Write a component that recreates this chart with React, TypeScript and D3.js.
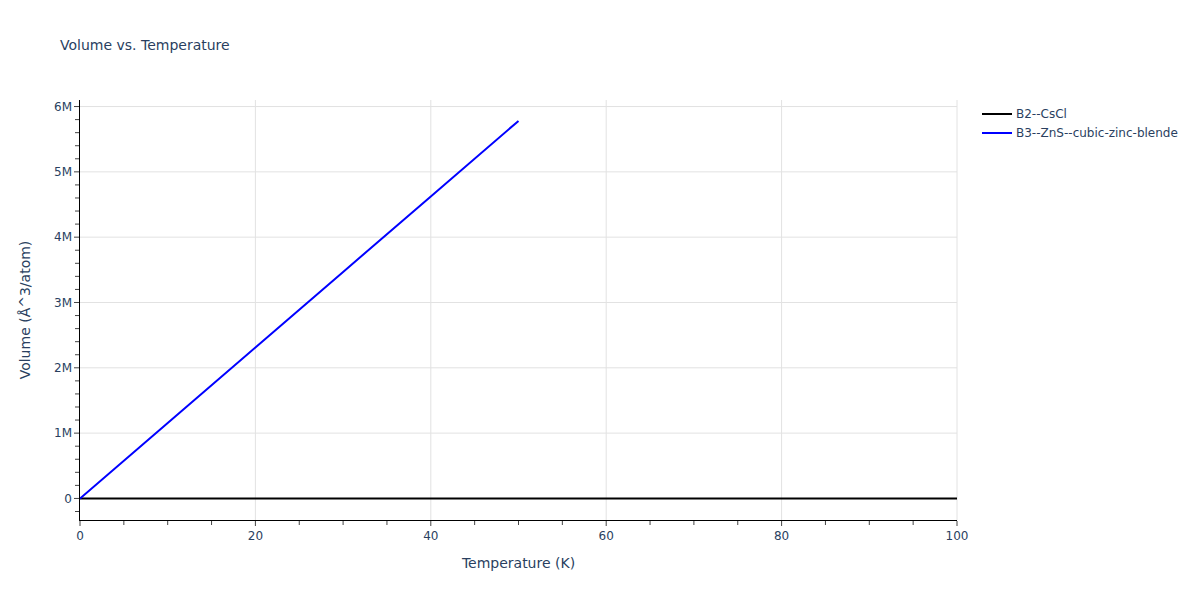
import React from "react";
import * as d3 from "d3";

const titleText = "Volume vs. Temperature";
const xLabel = "Temperature (K)";
const yLabel = "Volume (Å^3/atom)";

const seriesNames = ["B2--CsCl", "B3--ZnS--cubic-zinc-blende"];
const seriesColors = ["#000000", "#0000ff"];

const tempB2 = [0, 10, 20, 30, 40, 50, 60, 70, 80, 90, 100];
const volB2 = [0, 0, 0, 0, 0, 0, 0, 0, 0, 0, 0];

const tempB3 = [0, 10, 20, 30, 40, 50];
const volB3 = [0, 1156000, 2312000, 3468000, 4624000, 5780000];

const xTicks = [0, 20, 40, 60, 80, 100];
const yTicks = [0, 1e6, 2e6, 3e6, 4e6, 5e6, 6e6];
const yTickLabels = ["0", "1M", "2M", "3M", "4M", "5M", "6M"];

const W = 1200;
const H = 600;
const M = { l: 80, r: 243, t: 100, b: 80 };
const FONT = "'DejaVu Sans', Verdana, sans-serif";
const TXT = "#2a3f5f";

export default function App() {
  const x = d3.scaleLinear().domain([0, 100]).range([M.l, W - M.r]);
  const y = d3.scaleLinear().domain([-0.33e6, 6.1e6]).range([H - M.b, M.t]);

  const xMinor = d3.range(0, 101, 5).filter((v) => v % 20 !== 0);
  const yMinor = d3.range(-2, 61, 2).map((v) => v * 1e5).filter((v) => Math.round(v) % 1e6 !== 0);

  const line = d3
    .line<[number, number]>()
    .x((d) => x(d[0]))
    .y((d) => y(d[1]));

  const b2 = tempB2.map((t, i) => [t, volB2[i]] as [number, number]);
  const b3 = tempB3.map((t, i) => [t, volB3[i]] as [number, number]);

  const x0 = M.l;
  const x1 = W - M.r;
  const yb = H - M.b;
  const yt = M.t;

  return (
    <svg
      width={W}
      height={H}
      style={{ display: "block", position: "absolute", left: 0, top: 0, background: "#fff", fontFamily: FONT }}
    >
      <rect x={0} y={0} width={W} height={H} fill="#fff" />
      {/* grid */}
      {xTicks.slice(1).map((t) => (
        <line key={"gx" + t} x1={x(t)} x2={x(t)} y1={yt} y2={yb} stroke="#e2e2e2" strokeWidth={1} />
      ))}
      {yTicks.map((t) => (
        <line key={"gy" + t} x1={x0} x2={x1} y1={y(t)} y2={y(t)} stroke="#e2e2e2" strokeWidth={1} />
      ))}
      {/* series */}
      <clipPath id="clip">
        <rect x={x0} y={yt} width={x1 - x0} height={yb - yt} />
      </clipPath>
      <g clipPath="url(#clip)">
        <path d={line(b2) || ""} fill="none" stroke={seriesColors[0]} strokeWidth={2} />
        <path d={line(b3) || ""} fill="none" stroke={seriesColors[1]} strokeWidth={2} />
      </g>
      {/* axes lines */}
      <line x1={x0 - 0.5} x2={x1} y1={yb + 0.5} y2={yb + 0.5} stroke="#000" strokeWidth={1} />
      <line x1={x0 - 0.5} x2={x0 - 0.5} y1={yt} y2={yb + 1} stroke="#000" strokeWidth={1} />
      {/* x ticks */}
      {xTicks.map((t) => (
        <g key={"xt" + t}>
          <line x1={x(t)} x2={x(t)} y1={yb + 1} y2={yb + 6} stroke="#444" strokeWidth={1} />
          <text x={x(t)} y={yb + 20} textAnchor="middle" fontSize={12} fill={TXT}>
            {t}
          </text>
        </g>
      ))}
      {xMinor.map((t) => (
        <line key={"xm" + t} x1={x(t)} x2={x(t)} y1={yb + 1} y2={yb + 5} stroke="#444" strokeWidth={1} />
      ))}
      {/* y ticks */}
      {yTicks.map((t, i) => (
        <g key={"yt" + t}>
          <line x1={x0 - 6} x2={x0 - 1} y1={y(t)} y2={y(t)} stroke="#444" strokeWidth={1} />
          <text x={x0 - 8} y={y(t)} dy="0.35em" textAnchor="end" fontSize={12} fill={TXT}>
            {yTickLabels[i]}
          </text>
        </g>
      ))}
      {yMinor.map((t) => (
        <line key={"ym" + t} x1={x0 - 5} x2={x0 - 1} y1={y(t)} y2={y(t)} stroke="#444" strokeWidth={1} />
      ))}
      {/* titles */}
      <text x={60} y={50} fontSize={14} fill={TXT}>
        {titleText}
      </text>
      <text x={(x0 + x1) / 2} y={568} textAnchor="middle" fontSize={14} fill={TXT}>
        {xLabel}
      </text>
      <text
        transform={`translate(30,${(yt + yb) / 2}) rotate(-90)`}
        textAnchor="middle"
        fontSize={14}
        fill={TXT}
      >
        {yLabel}
      </text>
      {/* legend */}
      {seriesNames.map((n, i) => (
        <g key={n} transform={`translate(982,${114 + i * 19})`}>
          <line x1={0} x2={30} y1={0} y2={0} stroke={seriesColors[i]} strokeWidth={2} />
          <text x={34} y={0} dy="0.35em" fontSize={12} fill={TXT}>
            {n}
          </text>
        </g>
      ))}
    </svg>
  );
}
